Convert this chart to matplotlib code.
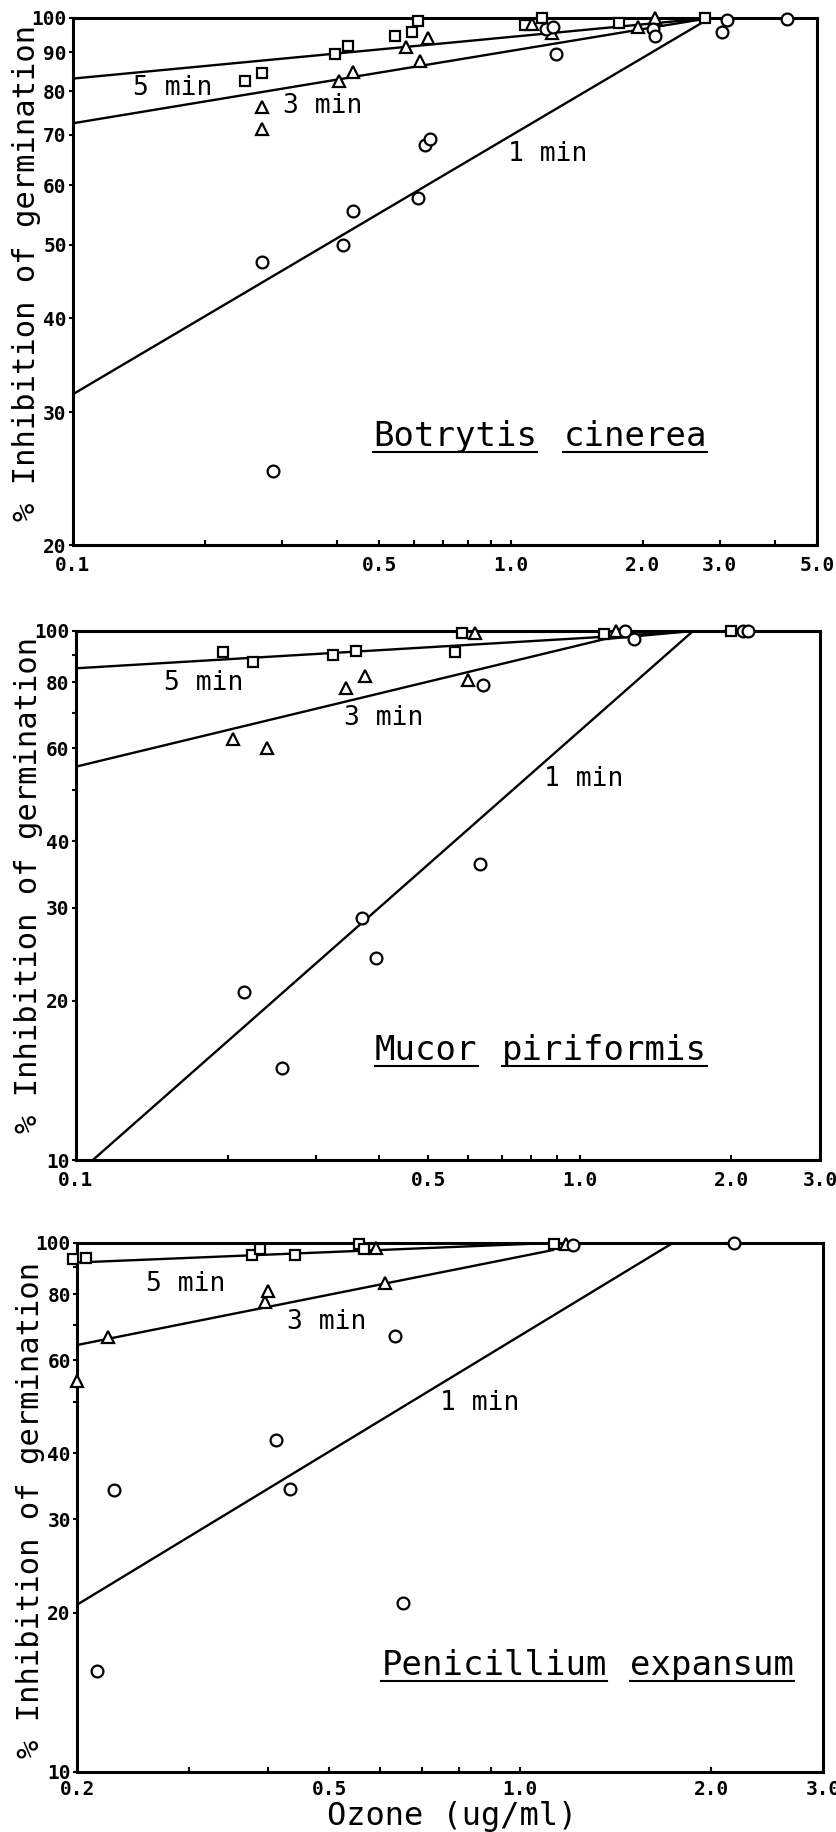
import matplotlib
matplotlib.use("Agg")
import matplotlib.pyplot as plt
from matplotlib.lines import Line2D
from matplotlib.ticker import NullFormatter

MONO = "DejaVu Sans Mono"

# --- Botrytis cinerea -------------------------------------------------------
bot_sq_x = [0.247, 0.270, 0.397, 0.425, 0.543, 0.593, 0.613, 1.076, 1.18, 1.77, 2.77]
bot_sq_y = [82.4, 84.5, 89.5, 91.7, 94.7, 95.9, 99.2, 98.0, 100.0, 98.4, 100.0]
bot_tri_x = [0.270, 0.270, 0.406, 0.436, 0.575, 0.620, 0.648, 1.12, 1.24, 1.95, 2.13]
bot_tri_y = [76.2, 71.3, 82.6, 84.9, 91.5, 87.7, 94.2, 98.3, 95.5, 97.3, 100.0]
bot_circ_x = [0.270, 0.286, 0.414, 0.436, 0.614, 0.636, 0.653, 1.20, 1.25, 1.27, 2.11, 2.13, 3.03, 3.11, 4.26]
bot_circ_y = [47.4, 25.1, 50.0, 55.5, 57.7, 67.9, 69.0, 96.8, 97.3, 89.7, 96.8, 94.7, 95.8, 99.5, 99.8]
bot_fit5_x, bot_fit5_y = [0.1, 2.85], [83.1, 100.0]
bot_fit3_x, bot_fit3_y = [0.1, 2.85], [72.5, 100.0]
bot_fit1_x, bot_fit1_y = [0.1, 2.85, 5.0], [31.7, 100.0, 100.0]

# --- Mucor piriformis -------------------------------------------------------
muc_sq_x = [0.196, 0.225, 0.324, 0.359, 0.565, 0.585, 1.12, 2.0]
muc_sq_y = [91.3, 87.3, 89.9, 91.7, 91.3, 99.0, 98.5, 100.0]
muc_tri_x = [0.205, 0.239, 0.344, 0.374, 0.600, 0.620, 1.18]
muc_tri_y = [62.6, 60.1, 78.0, 82.3, 80.9, 99.0, 100.0]
muc_circ_x = [0.216, 0.256, 0.369, 0.395, 0.633, 0.643, 1.23, 1.28, 2.11, 2.16]
muc_circ_y = [20.8, 14.9, 28.7, 24.1, 36.3, 79.1, 99.9, 96.7, 100.0, 100.0]
muc_fit5_x, muc_fit5_y = [0.1, 1.12, 1.68], [85.0, 97.5, 100.0]
muc_fit3_x, muc_fit3_y = [0.1, 1.12, 1.68], [55.4, 96.5, 100.0]
muc_fit1_x, muc_fit1_y = [0.108, 1.68, 3.0], [10.0, 100.0, 100.0]

# --- Penicillium expansum ---------------------------------------------------
pen_sq_x = [0.197, 0.207, 0.377, 0.389, 0.442, 0.556, 0.566, 1.13]
pen_sq_y = [93.3, 93.8, 94.9, 97.3, 94.9, 99.3, 97.3, 99.7]
pen_tri_x = [0.200, 0.224, 0.396, 0.400, 0.593, 0.612, 1.18]
pen_tri_y = [54.7, 66.3, 77.3, 81.0, 97.7, 83.8, 99.7]
pen_circ_x = [0.215, 0.229, 0.412, 0.434, 0.635, 0.653, 1.21, 2.17]
pen_circ_y = [15.5, 34.1, 42.4, 34.3, 66.8, 20.9, 99.0, 100.0]
pen_fit5_x, pen_fit5_y = [0.2, 1.13], [91.8, 100.0]
pen_fit3_x, pen_fit3_y = [0.2, 1.13], [64.1, 97.0]
pen_fit1_x, pen_fit1_y = [0.2, 1.74, 3.0], [20.7, 100.0, 100.0]

# axis ticks
bot_xmajor = [0.1, 0.5, 1.0, 2.0, 3.0, 5.0]
bot_xminor = [0.2, 0.3, 0.4, 0.6, 0.7, 0.8, 0.9, 4.0]
bot_ymajor = [20, 30, 40, 50, 60, 70, 80, 90, 100]
bot_yminor = []
muc_xmajor = [0.1, 0.5, 1.0, 2.0, 3.0]
muc_xminor = [0.2, 0.3, 0.4, 0.6, 0.7, 0.8, 0.9]
pen_xmajor = [0.2, 0.5, 1.0, 2.0, 3.0]
pen_xminor = [0.3, 0.4, 0.6, 0.7, 0.8, 0.9]
ymajor_10 = [10, 20, 30, 40, 60, 80, 100]
yminor_10 = [50, 70, 90]

YLABEL = "% Inhibition of germination"
XLABEL = "Ozone (ug/ml)"


def setup_axes(ax, xlim, ylim, xmajor, xminor, ymajor, yminor, xpad=8):
    ax.set_xscale("log")
    ax.set_yscale("log")
    ax.set_xlim(*xlim)
    ax.set_ylim(*ylim)
    ax.set_xticks(xmajor)
    ax.set_xticklabels([f"{v:.1f}" for v in xmajor])
    ax.set_xticks(xminor, minor=True)
    ax.set_yticks(ymajor)
    ax.set_yticklabels([f"{v:g}" for v in ymajor])
    ax.set_yticks(yminor, minor=True)
    ax.xaxis.set_minor_formatter(NullFormatter())
    ax.yaxis.set_minor_formatter(NullFormatter())
    ax.tick_params(axis="x", which="both", direction="in", length=3.5, width=1.5, pad=xpad)
    ax.tick_params(axis="y", which="both", direction="out", length=3, width=1.5, pad=1.5)
    for lab in ax.get_xticklabels() + ax.get_yticklabels():
        lab.set_fontfamily(MONO)
        lab.set_fontweight("bold")
        lab.set_fontsize(14)
    for sp in ax.spines.values():
        sp.set_linewidth(2.2)


def draw_points(ax, sq, tri, circ, fits):
    for fx, fy in fits:
        ax.plot(fx, fy, color="black", lw=1.7, zorder=2, solid_capstyle="butt")
    kw = dict(linestyle="none", markerfacecolor="white", markeredgecolor="black",
              markeredgewidth=1.6, clip_on=False, zorder=4)
    ax.plot(sq[0], sq[1], marker="s", markersize=7.5, **kw)
    ax.plot(tri[0], tri[1], marker="^", markersize=8, **kw)
    ax.plot(circ[0], circ[1], marker="o", markersize=8.5, **kw)


def label_panel(ax, min_pos, words, word_x, base_y, ylab_xy):
    for txt, (x, y) in zip(["5 min", "3 min", "1 min"], min_pos):
        ax.text(x, y, txt, transform=ax.transAxes, ha="center", va="center",
                fontsize=19, family=MONO, zorder=5)
    ax.text(ylab_xy[0], ylab_xy[1], YLABEL, transform=ax.transAxes, rotation=90,
            ha="center", va="center", fontsize=22, family=MONO)
    species = []
    for w, x in zip(words, word_x):
        t = ax.text(x, base_y, w, transform=ax.transAxes, ha="left", va="baseline",
                    fontsize=24.5, family=MONO)
        species.append(t)
    return species


fig = plt.figure(figsize=(8.37, 18.32), dpi=100)
ax1 = fig.add_axes([0.0872, 0.7025, 0.8889, 0.2877])
ax2 = fig.add_axes([0.0908, 0.3668, 0.8889, 0.2888])
ax3 = fig.add_axes([0.0920, 0.0328, 0.8913, 0.2888])

setup_axes(ax1, (0.1, 5.0), (20, 100), bot_xmajor, bot_xminor, bot_ymajor, bot_yminor)
setup_axes(ax2, (0.1, 3.0), (10, 100), muc_xmajor, muc_xminor, ymajor_10, yminor_10)
setup_axes(ax3, (0.2, 3.0), (10, 100), pen_xmajor, pen_xminor, ymajor_10, yminor_10, xpad=5.5)

draw_points(ax1, (bot_sq_x, bot_sq_y), (bot_tri_x, bot_tri_y), (bot_circ_x, bot_circ_y),
            [(bot_fit5_x, bot_fit5_y), (bot_fit3_x, bot_fit3_y), (bot_fit1_x, bot_fit1_y)])
draw_points(ax2, (muc_sq_x, muc_sq_y), (muc_tri_x, muc_tri_y), (muc_circ_x, muc_circ_y),
            [(muc_fit5_x, muc_fit5_y), (muc_fit3_x, muc_fit3_y), (muc_fit1_x, muc_fit1_y)])
draw_points(ax3, (pen_sq_x, pen_sq_y), (pen_tri_x, pen_tri_y), (pen_circ_x, pen_circ_y),
            [(pen_fit5_x, pen_fit5_y), (pen_fit3_x, pen_fit3_y), (pen_fit1_x, pen_fit1_y)])

underlined = []
underlined += label_panel(ax1, [(0.134, 0.868), (0.336, 0.833), (0.638, 0.742)],
                          ["Botrytis", "cinerea"], [0.403, 0.659], 0.188, (-0.062, 0.516))
underlined += label_panel(ax2, [(0.171, 0.902), (0.413, 0.836), (0.683, 0.720)],
                          ["Mucor", "piriformis"], [0.402, 0.573], 0.189, (-0.0645, 0.52))
underlined += label_panel(ax3, [(0.146, 0.922), (0.335, 0.851), (0.540, 0.698)],
                          ["Penicillium", "expansum"], [0.408, 0.741], 0.183, (-0.063, 0.495))

ax3.text(0.503, -0.0995, XLABEL, transform=ax3.transAxes, ha="center", va="baseline",
         fontsize=23, family=MONO)

# underline the species names
fig.canvas.draw()
renderer = fig.canvas.get_renderer()
W, H = fig.bbox.width, fig.bbox.height
for t in underlined:
    bb = t.get_window_extent(renderer)
    base = t.get_transform().transform(t.get_position())[1]
    y = (base - 6) / H
    fig.add_artist(Line2D([bb.x0 / W, bb.x1 / W], [y, y], transform=fig.transFigure,
                          color="black", lw=1.5))

fig.savefig("out.png", dpi=100)
